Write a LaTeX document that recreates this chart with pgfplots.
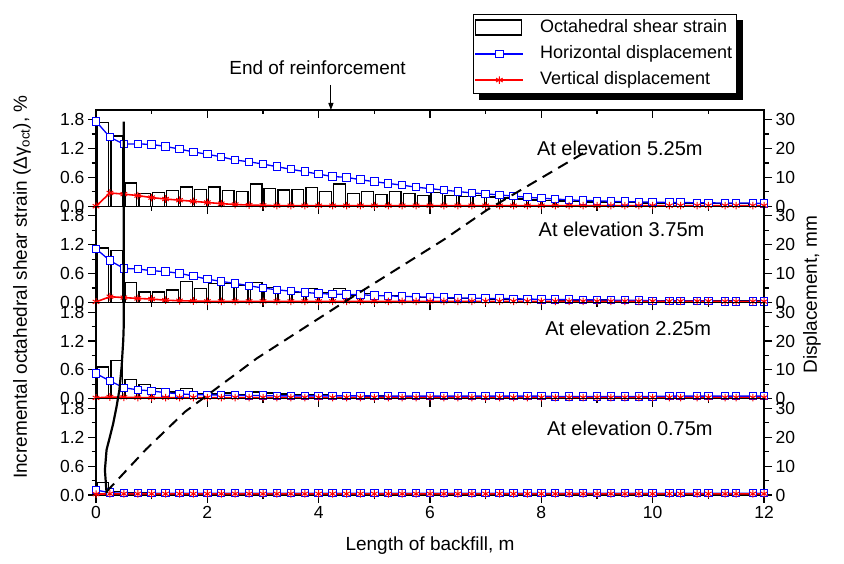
\documentclass[border=0pt]{standalone}
\usepackage{fontspec}
\setmainfont{Liberation Sans}
\usepackage{pgfplots}
\pgfplotsset{compat=1.18}
\usepackage{pgfplotstable}
\usetikzlibrary{arrows.meta}

\pgfplotstableread{
x s
0.125 1.74
0.375 1.46
0.625 0.48
0.875 0.26
1.125 0.29
1.375 0.33
1.625 0.40
1.875 0.35
2.125 0.40
2.375 0.33
2.625 0.31
2.875 0.46
3.125 0.37
3.375 0.34
3.625 0.35
3.875 0.39
4.125 0.30
4.375 0.46
4.625 0.27
4.875 0.31
5.125 0.24
5.375 0.30
5.625 0.27
5.875 0.22
6.125 0.28
6.375 0.23
6.625 0.20
6.875 0.22
7.125 0.19
7.375 0.17
7.625 0.15
7.875 0.13
8.125 0.12
8.375 0.11
8.625 0.10
8.875 0.09
9.125 0.09
9.375 0.08
9.625 0.08
9.875 0.07
10.125 0.07
10.375 0.06
10.625 0.06
10.875 0.06
11.125 0.05
11.375 0.05
11.625 0.05
11.875 0.05
}\barsA

\pgfplotstableread{
x s
0.125 1.13
0.375 1.08
0.625 0.42
0.875 0.22
1.125 0.22
1.375 0.26
1.625 0.43
1.875 0.29
2.125 0.40
2.375 0.40
2.625 0.35
2.875 0.42
3.125 0.31
3.375 0.25
3.625 0.21
3.875 0.29
4.125 0.21
4.375 0.29
4.625 0.15
4.875 0.18
5.125 0.15
5.375 0.14
5.625 0.12
5.875 0.11
6.125 0.10
6.375 0.09
6.625 0.08
6.875 0.08
7.125 0.07
7.375 0.07
7.625 0.06
7.875 0.06
8.125 0.06
8.375 0.05
8.625 0.05
8.875 0.05
9.125 0.05
9.375 0.04
9.625 0.04
9.875 0.04
10.125 0.04
10.375 0.04
10.625 0.03
10.875 0.03
11.125 0.03
11.375 0.03
11.625 0.03
11.875 0.03
}\barsB

\pgfplotstableread{
x s
0.125 0.66
0.375 0.80
0.625 0.40
0.875 0.29
1.125 0.21
1.375 0.14
1.625 0.21
1.875 0.10
2.125 0.10
2.375 0.12
2.625 0.09
2.875 0.14
3.125 0.12
3.375 0.10
3.625 0.09
3.875 0.09
4.125 0.08
4.375 0.07
4.625 0.07
4.875 0.06
5.125 0.06
5.375 0.05
5.625 0.05
5.875 0.05
6.125 0.05
6.375 0.05
6.625 0.04
6.875 0.04
7.125 0.04
7.375 0.04
7.625 0.04
7.875 0.04
8.125 0.04
8.375 0.03
8.625 0.03
8.875 0.03
9.125 0.03
9.375 0.03
9.625 0.03
9.875 0.03
10.125 0.03
10.375 0.03
10.625 0.03
10.875 0.03
11.125 0.03
11.375 0.03
11.625 0.03
11.875 0.03
}\barsC

\pgfplotstableread{
x s
0.125 0.26
0.375 0.07
0.625 0.05
0.875 0.04
1.125 0.03
1.375 0.03
1.625 0.03
1.875 0.03
2.125 0.03
2.375 0.03
2.625 0.03
2.875 0.03
3.125 0.03
3.375 0.03
3.625 0.03
3.875 0.03
4.125 0.02
4.375 0.02
4.625 0.02
4.875 0.02
5.125 0.02
5.375 0.02
5.625 0.02
5.875 0.02
6.125 0.02
6.375 0.02
6.625 0.02
6.875 0.02
7.125 0.02
7.375 0.02
7.625 0.02
7.875 0.02
8.125 0.02
8.375 0.02
8.625 0.02
8.875 0.02
9.125 0.02
9.375 0.02
9.625 0.02
9.875 0.02
10.125 0.02
10.375 0.02
10.625 0.02
10.875 0.02
11.125 0.02
11.375 0.02
11.625 0.02
11.875 0.02
}\barsD

\pgfplotstableread{
x h v
0 29.4 0.0
0.25 23.9 4.6
0.5 21.5 4.2
0.75 21.6 3.7
1.0 21.4 3.0
1.25 20.7 2.5
1.5 19.8 2.1
1.75 18.8 1.7
2.0 18.0 1.3
2.25 17.1 0.9
2.5 16.0 0.6
2.75 15.4 0.4
3.0 14.6 0.3
3.25 13.7 0.2
3.5 12.8 0.2
3.75 12.0 0.2
4.0 11.1 0.2
4.25 10.3 0.2
4.5 10.0 0.2
4.75 9.2 0.2
5.0 8.5 0.2
5.25 7.9 0.2
5.5 7.3 0.2
5.75 6.6 0.2
6.0 6.1 0.2
6.25 5.6 0.2
6.5 5.1 0.2
6.75 4.6 0.2
7.0 4.3 0.2
7.25 3.9 0.2
7.5 3.5 0.2
7.75 3.1 0.2
8.0 2.8 0.2
8.25 2.5 0.2
8.5 2.2 0.2
8.75 2.0 0.2
9.0 1.9 0.2
9.25 1.7 0.2
9.5 1.6 0.2
9.75 1.5 0.2
10.0 1.4 0.2
10.3 1.3 0.2
10.5 1.3 0.2
10.8 1.2 0.2
11.0 1.2 0.2
11.3 1.1 0.2
11.5 1.1 0.2
11.8 1.1 0.2
12.0 1.0 0.2
}\dispA

\pgfplotstableread{
x h v
0 18.6 0.2
0.25 14.5 2.0
0.5 11.8 1.7
0.75 11.6 1.4
1.0 11.0 1.2
1.25 10.7 0.8
1.5 10.1 0.6
1.75 9.1 0.5
2.0 8.1 0.4
2.25 7.3 0.4
2.5 6.6 0.4
2.75 5.8 0.4
3.0 5.0 0.4
3.25 4.4 0.4
3.5 3.9 0.4
3.75 3.5 0.4
4.0 3.1 0.4
4.25 2.9 0.4
4.5 2.8 0.4
4.75 2.7 0.4
5.0 2.4 0.4
5.25 2.3 0.4
5.5 2.1 0.4
5.75 2.0 0.4
6.0 1.8 0.4
6.25 1.7 0.4
6.5 1.6 0.4
6.75 1.5 0.4
7.0 1.4 0.4
7.25 1.4 0.4
7.5 1.3 0.4
7.75 1.2 0.4
8.0 1.1 0.4
8.25 1.0 0.4
8.5 1.0 0.4
8.75 0.9 0.4
9.0 0.9 0.4
9.25 0.8 0.4
9.5 0.8 0.4
9.75 0.7 0.4
10.0 0.6 0.4
10.3 0.5 0.4
10.5 0.5 0.4
10.8 0.5 0.4
11.0 0.5 0.4
11.3 0.4 0.3
11.5 0.4 0.3
11.8 0.4 0.3
12.0 0.4 0.3
}\dispB

\pgfplotstableread{
x h v
0 8.7 0.3
0.25 6.2 0.6
0.5 3.8 0.5
0.75 3.1 0.4
1.0 2.7 0.4
1.25 2.1 0.4
1.5 1.7 0.4
1.75 1.4 0.4
2.0 1.4 0.4
2.25 1.2 0.4
2.5 1.2 0.4
2.75 1.1 0.4
3.0 1.1 0.4
3.25 1.0 0.4
3.5 1.0 0.4
3.75 1.0 0.4
4.0 1.0 0.4
4.25 1.0 0.4
4.5 1.0 0.4
4.75 1.0 0.4
5.0 1.0 0.4
5.25 0.9 0.4
5.5 0.9 0.4
5.75 0.9 0.4
6.0 0.9 0.4
6.25 0.9 0.4
6.5 0.9 0.4
6.75 0.9 0.4
7.0 0.9 0.4
7.25 0.9 0.4
7.5 0.9 0.4
7.75 0.9 0.4
8.0 0.9 0.4
8.25 0.8 0.4
8.5 0.8 0.4
8.75 0.8 0.4
9.0 0.8 0.4
9.25 0.8 0.4
9.5 0.8 0.4
9.75 0.8 0.4
10.0 0.8 0.4
10.3 0.9 0.4
10.5 0.9 0.4
10.8 0.9 0.4
11.0 0.9 0.4
11.3 0.9 0.4
11.5 0.9 0.4
11.8 0.9 0.4
12.0 0.9 0.4
}\dispC

\pgfplotstableread{
x h v
0 1.7 0.3
0.25 0.8 0.4
0.5 0.6 0.4
0.75 0.6 0.4
1.0 0.6 0.4
1.25 0.6 0.4
1.5 0.6 0.4
1.75 0.6 0.4
2.0 0.6 0.4
2.25 0.6 0.4
2.5 0.6 0.4
2.75 0.6 0.4
3.0 0.6 0.4
3.25 0.6 0.4
3.5 0.6 0.4
3.75 0.6 0.4
4.0 0.6 0.4
4.25 0.6 0.4
4.5 0.6 0.4
4.75 0.6 0.4
5.0 0.6 0.4
5.25 0.6 0.4
5.5 0.6 0.4
5.75 0.6 0.4
6.0 0.6 0.4
6.25 0.6 0.4
6.5 0.6 0.4
6.75 0.6 0.4
7.0 0.6 0.4
7.25 0.6 0.4
7.5 0.6 0.4
7.75 0.6 0.4
8.0 0.6 0.4
8.25 0.6 0.4
8.5 0.6 0.4
8.75 0.6 0.4
9.0 0.6 0.4
9.25 0.6 0.4
9.5 0.6 0.4
9.75 0.6 0.4
10.0 0.6 0.4
10.3 0.6 0.4
10.5 0.6 0.4
10.8 0.6 0.4
11.0 0.6 0.4
11.3 0.6 0.4
11.5 0.6 0.4
11.8 0.6 0.4
12.0 0.6 0.4
}\dispD

\tikzset{elev/.style={font=\fontsize{20}{24}\selectfont, anchor=center}}

\pgfplotsset{
  base/.style={scale only axis, width=668pt, height=96.25pt, xmin=0, xmax=12,
    anchor=south west, clip=false,
    axis line style={line width=1.3pt},
    every tick/.style={black, line width=1.2pt},
    major tick length=8pt, minor tick length=4.5pt, tick align=outside,
    tick label style={font=\fontsize{17.5}{20}\selectfont}},
  leftax/.style={base, ymin=0, ymax=2,
    ytick={0,0.6,1.2,1.8}, yticklabels={0.0,0.6,1.2,1.8}, minor ytick={0.3,0.9,1.5},
    ytick pos=left, xtick={0,2,4,6,8,10,12}, minor xtick={1,3,5,7,9,11},
    xtick pos=bottom, xticklabels={}},
  rightax/.style={base, ymin=0, ymax=33.3333,
    ytick={0,10,20,30}, yticklabels={0,10,20,30}, minor ytick={5,15,25},
    ytick pos=right, xtick=\empty},
  bars/.style={ybar, bar width=0.21, draw=black, line width=1.3pt, fill=none},
  hdisp/.style={blue, line width=1.3pt, mark=square*, mark size=3.7pt,
    mark options={fill=white, draw=blue, line width=1pt, solid}},
  vdisp/.style={red, line width=1.6pt, mark=asterisk, mark size=3.8pt,
    mark options={red, line width=1pt, solid}},
}

\begin{document}
\begin{tikzpicture}
\path[use as bounding box] (0,0) rectangle (844pt,564pt);

% ---------- panel 1 : 5.25 m ----------
\begin{axis}[leftax, at={(96pt,357.75pt)}]
\addplot[bars] table[x=x,y=s]{\barsA};
\node[elev] at (axis cs:9.41,1.21) {At elevation 5.25m};
\end{axis}
\begin{axis}[base, at={(96pt,357.75pt)}, ymin=0, ymax=2, ytick=\empty,
  xtick={0,2,4,6,8,10,12}, minor xtick={1,3,5,7,9,11}, xtick pos=top,
  tick align=inside, xticklabels={}]
\end{axis}
\begin{axis}[rightax, at={(96pt,357.75pt)},
  legend style={name=leg, at={(0.5644,1.997)}, anchor=north west, draw=black,
    line width=1.1pt, fill=white, font=\fontsize{18}{21}\selectfont,
    inner xsep=1pt, inner ysep=3pt, row sep=5pt, column sep=0pt,
    nodes={inner xsep=3pt, inner ysep=2pt, text height=13pt, text depth=4pt},
    /tikz/every odd column/.append style={column sep=13pt}},
  legend cell align=left,
  legend image code/.code={\draw[mark repeat=2,mark phase=2,#1] plot coordinates {(0pt,0pt) (24pt,0pt) (48pt,0pt)};}]
\addlegendimage{legend image code/.code={\draw[black, line width=1.3pt] (0pt,-7pt) rectangle (46pt,8pt);}}
\addlegendentry{Octahedral shear strain}
\addplot[hdisp] table[x=x,y=h]{\dispA};
\addlegendentry{Horizontal displacement}
\addplot[vdisp] table[x=x,y=v]{\dispA};
\addlegendentry{Vertical displacement}
\end{axis}
\fill[black] ([yshift=-6pt]leg.north east) rectangle ([xshift=6pt,yshift=-6pt]leg.south east);
\fill[black] ([xshift=6pt]leg.south west) rectangle ([xshift=6pt,yshift=-6pt]leg.south east);

% ---------- panel 2 : 3.75 m ----------
\begin{axis}[leftax, at={(96pt,261.5pt)}]
\addplot[bars] table[x=x,y=s]{\barsB};
\node[elev] at (axis cs:9.44,1.51) {At elevation 3.75m};
\end{axis}
\begin{axis}[rightax, at={(96pt,261.5pt)}]
\addplot[hdisp] table[x=x,y=h]{\dispB};
\addplot[vdisp] table[x=x,y=v]{\dispB};
\end{axis}

% ---------- panel 3 : 2.25 m ----------
\begin{axis}[leftax, at={(96pt,165.25pt)}]
\addplot[bars] table[x=x,y=s]{\barsC};
\node[elev] at (axis cs:9.56,1.47) {At elevation 2.25m};
\end{axis}
\begin{axis}[rightax, at={(96pt,165.25pt)}]
\addplot[hdisp] table[x=x,y=h]{\dispC};
\addplot[vdisp] table[x=x,y=v]{\dispC};
\end{axis}

% ---------- panel 4 : 0.75 m ----------
\begin{axis}[leftax, at={(96pt,69pt)}, xticklabels={0,2,4,6,8,10,12}]
\addplot[bars] table[x=x,y=s]{\barsD};
\node[elev] at (axis cs:9.59,1.39) {At elevation 0.75m};
\end{axis}
\begin{axis}[rightax, at={(96pt,69pt)}]
\addplot[hdisp] table[x=x,y=h]{\dispD};
\addplot[vdisp] table[x=x,y=v]{\dispD};
\end{axis}

% ---------- overlay: failure surfaces, labels ----------
\begin{axis}[scale only axis, width=668pt, height=385pt, at={(96pt,69pt)},
  anchor=south west, xmin=0, xmax=12, ymin=0, ymax=8, hide axis, clip=false]
\addplot[black, line width=2.2pt] coordinates {
 (0.19,0.04) (0.16,0.52) (0.19,0.94) (0.25,1.21) (0.31,1.49) (0.37,1.84)
 (0.42,2.18) (0.46,2.66) (0.49,3.22) (0.50,3.58) (0.50,7.76)};
\addplot[black, line width=2pt, dash pattern=on 11pt off 7pt] coordinates {
 (0.19,0.07) (0.9,0.95) (1.60,1.73) (2.89,2.84) (4.38,3.95) (6.24,5.30) (7.02,5.92) (8.75,7.10)};
\draw[line width=1pt, -{Triangle[length=7pt,width=5pt]}] (axis cs:4.22,8.52) -- (axis cs:4.22,8.0);
\node[font=\fontsize{19}{22}\selectfont] at (axis cs:3.98,8.87) {End of reinforcement};
\node[rotate=90, font=\fontsize{19}{22}\selectfont] at (axis cs:-1.33,4.32)
  {Incremental octahedral shear strain (Δγ\textsubscript{oct}), \%};
\node[rotate=90, font=\fontsize{19}{22}\selectfont] at (axis cs:12.86,4.16) {Displacement, mm};
\node[font=\fontsize{19}{22}\selectfont] at (axis cs:6,-1.06) {Length of backfill, m};
\end{axis}
\end{tikzpicture}
\end{document}
